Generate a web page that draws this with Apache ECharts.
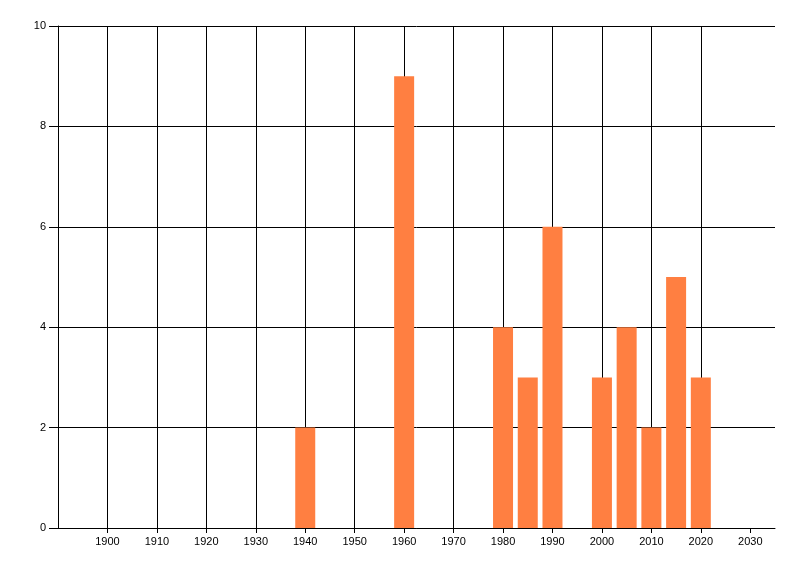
<!DOCTYPE html>
<html>
<head>
<meta charset="utf-8">
<script src="https://cdn.jsdelivr.net/npm/echarts@6/dist/echarts.min.js"></script>
<style>
  html, body { margin: 0; padding: 0; background: #fff; }
  #chart { width: 800px; height: 576px; }
</style>
</head>
<body>
<div id="chart"></div>
<script>
var years = [1940, 1960, 1980, 1985, 1990, 2000, 2005, 2010, 2015, 2020];
var counts = [2, 9, 4, 3, 6, 3, 4, 2, 5, 3];
var yearTicks = [1900, 1910, 1920, 1930, 1940, 1950, 1960, 1970, 1980, 1990, 2000, 2010, 2020, 2030];

var chart = echarts.init(document.getElementById('chart'));
var fontFamily = '"Liberation Sans", Arial, sans-serif';

var seriesData = years.map(function (y, i) {
    return [y, counts[i]];
});

var option = {
    animation: false,
    backgroundColor: '#fff',
    grid: {
        left: 58,
        right: 25,
        top: 26,
        bottom: 48
    },
    xAxis: {
        type: 'value',
        min: 1890,
        max: 2035,
        interval: 10,
        axisLine: { show: true, onZero: false, lineStyle: { color: '#000', width: 1 } },
        axisTick: { show: true, length: 5, customValues: yearTicks, lineStyle: { color: '#000' } },
        axisLabel: {
            customValues: yearTicks,
            formatter: function (v) { return String(v); },
            color: '#000',
            fontFamily: fontFamily,
            fontSize: 11,
            margin: 8
        },
        splitLine: { show: true, showMinLine: true, showMaxLine: false, lineStyle: { color: '#000', width: 1 } }
    },
    yAxis: {
        type: 'value',
        min: 0,
        max: 10,
        interval: 2,
        axisLine: { show: true, lineStyle: { color: '#000', width: 1 } },
        axisTick: { show: true, length: 9, lineStyle: { color: '#000' } },
        axisLabel: {
            color: '#000',
            fontFamily: fontFamily,
            fontSize: 11,
            margin: 12
        },
        splitLine: { show: true, lineStyle: { color: '#000', width: 1 } }
    },
    series: [
        {
            type: 'bar',
            barWidth: 20,
            itemStyle: { color: '#ff7f41' },
            data: seriesData
        }
    ]
};

chart.setOption(option);
</script>
</body>
</html>
